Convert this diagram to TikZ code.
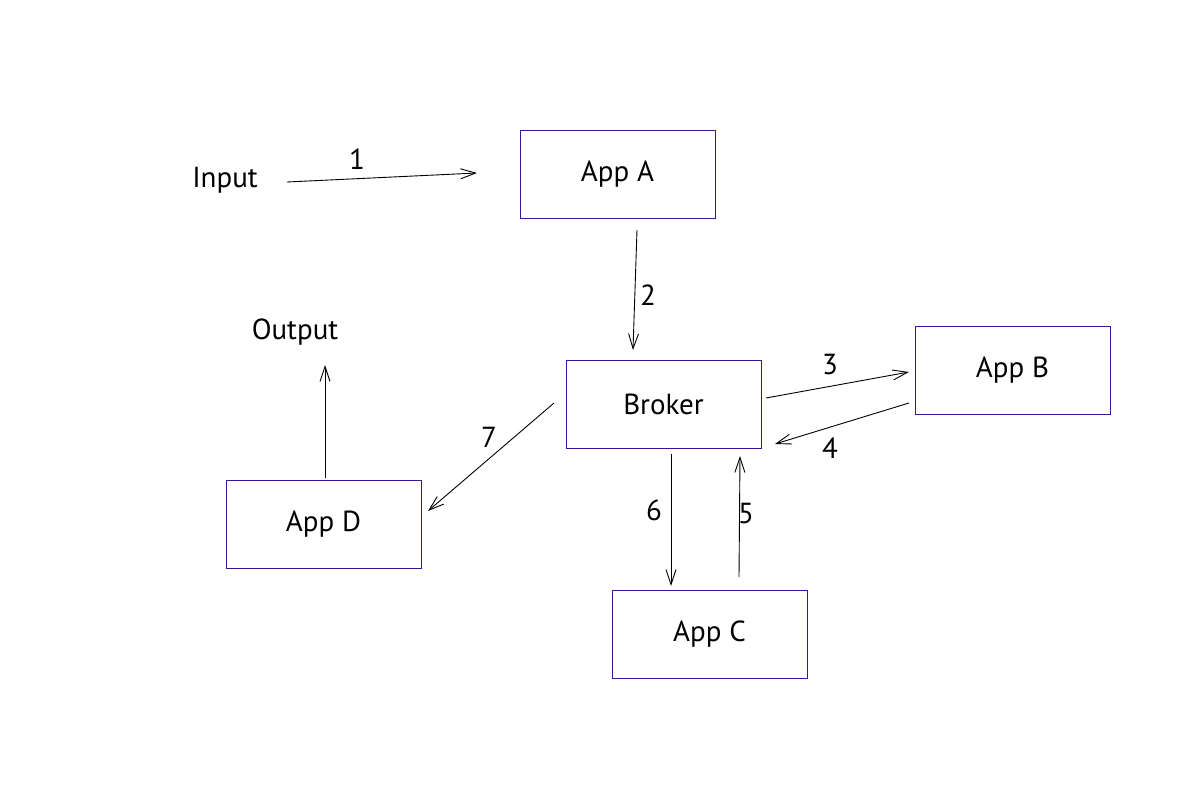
\documentclass[tikz,border=0pt]{standalone}
\usepackage{fontspec}
\setmainfont{PT Sans}
\usetikzlibrary{arrows.meta}
\definecolor{boxc}{RGB}{58,22,150}
\tikzset{
  box/.style={draw=boxc, line width=0.9pt, minimum width=195pt, minimum height=88pt, inner sep=0pt, font=\fontsize{29}{33}\selectfont},
  lbl/.style={font=\fontsize{29}{33}\selectfont, inner sep=0pt},
  conn/.style={line width=0.9pt, -{Straight Barb[length=15pt, width=10pt, line width=0.9pt]}}
}
\begin{document}
\begin{tikzpicture}[x=1pt,y=-1pt]
\useasboundingbox (0,0) rectangle (1200,800);
\fill[white] (0,0) rectangle (1200,800);
\node[box] (A) at (617.5,174) {App A};
\node[box] (B) at (1012.5,370) {App B};
\node[box] (K) at (663.5,404) {Broker};
\node[box] (C) at (709.5,634) {App C};
\node[box] (D) at (323.5,524) {App D};
\node[lbl] (in) at (225,180) {Input};
\node[lbl] (out) at (295,332) {Output};
\coordinate (a1) at (287,182); \coordinate (b1) at (477,173);
\coordinate (a2) at (637,230); \coordinate (b2) at (633,350);
\coordinate (a3) at (766,398); \coordinate (b3) at (909,372);
\coordinate (a4) at (909,403); \coordinate (b4) at (775,444);
\coordinate (a5) at (739,577); \coordinate (b5) at (740,456);
\coordinate (a6) at (671,454); \coordinate (b6) at (671,586);
\coordinate (a7) at (554,403); \coordinate (b7) at (428,511);
\coordinate (a8) at (325,478); \coordinate (b8) at (325,365);
\draw[conn] (a1) -- (b1);
\draw[conn] (a2) -- (b2);
\draw[conn] (a3) -- (b3);
\draw[conn] (a4) -- (b4);
\draw[conn] (a5) -- (b5);
\draw[conn] (a6) -- (b6);
\draw[conn] (a7) -- (b7);
\draw[conn] (a8) -- (b8);
\node[lbl] (l1) at (357,159) {1};
\node[lbl] (l2) at (648,295) {2};
\node[lbl] (l3) at (830,365) {3};
\node[lbl] (l4) at (830,448) {4};
\node[lbl] (l5) at (746,514) {5};
\node[lbl] (l6) at (654,510) {6};
\node[lbl] (l7) at (489,437) {7};
\end{tikzpicture}
\end{document}
